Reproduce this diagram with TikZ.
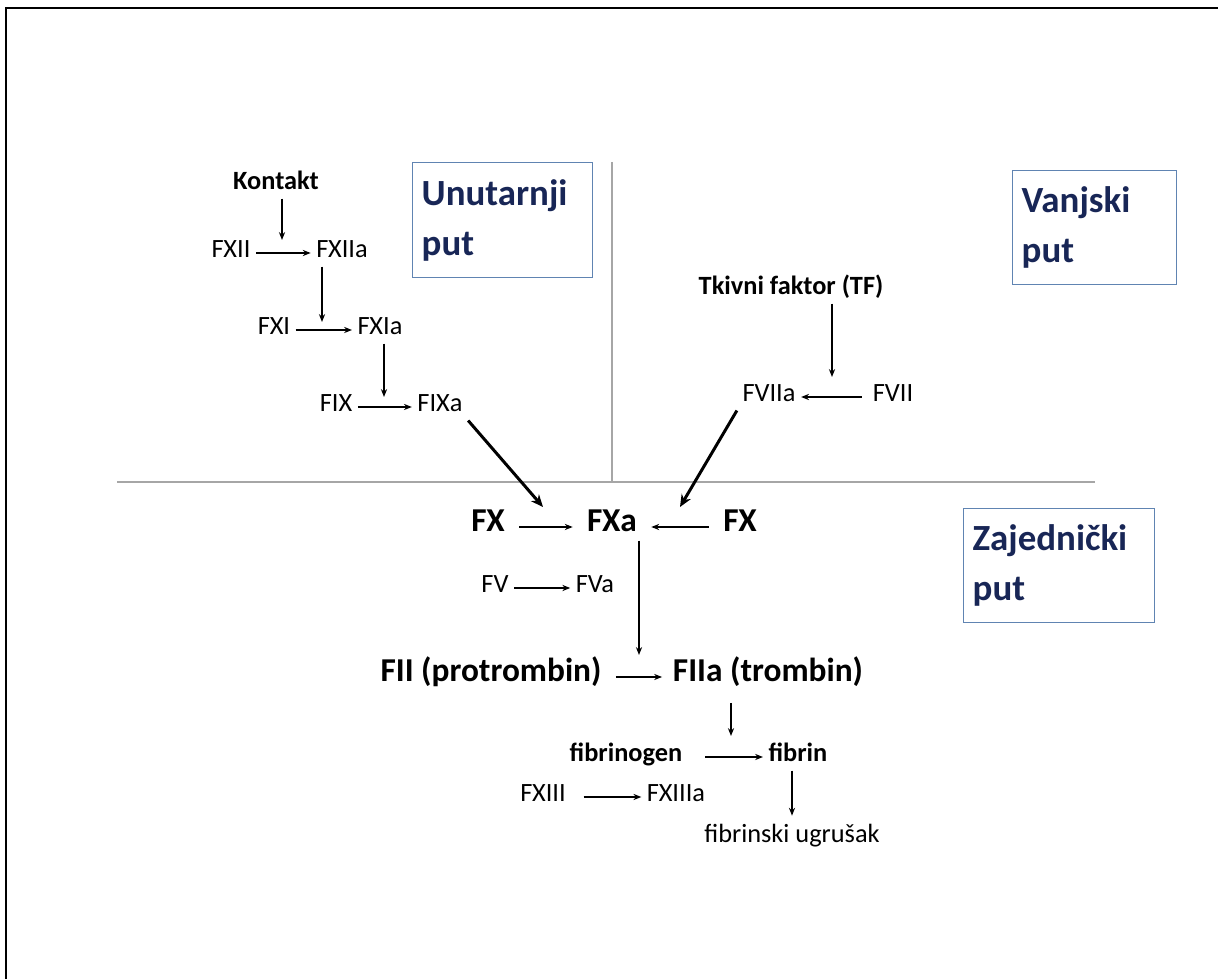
\documentclass[tikz,border=0pt]{standalone}
\usepackage{fontspec}
\setmainfont{Carlito}
\usetikzlibrary{arrows.meta,calc}
\definecolor{pathnavy}{RGB}{24,38,86}
\definecolor{pathframe}{RGB}{96,132,178}

\begin{document}
\begin{tikzpicture}[x=0.02cm, y=-0.02cm,
    factor/.style={font=\fontsize{15}{18}\selectfont, inner sep=3pt, text height=0.7em, text depth=0.2em},
    factorb/.style={factor, font=\bfseries\fontsize{15}{18}\selectfont},
    major/.style={font=\bfseries\fontsize{19}{23}\selectfont, inner xsep=8pt, inner ysep=3pt, text height=0.7em, text depth=0.2em},
    conv/.style={-{Stealth[length=4.5pt, width=3.5pt]}, line width=0.8pt},
    feed/.style={-{Stealth[length=7pt, width=6pt]}, line width=1.7pt},
    divider/.style={draw=black!35, line width=0.8pt},
    pathbox/.style={draw=pathframe, line width=0.8pt, text=pathnavy, anchor=north west, align=left, inner xsep=0.18cm, font=\bfseries\fontsize{21}{28.4}\selectfont}]
    \useasboundingbox (0,0) rectangle (1218,979);
    \draw[line width=1.2pt] (6,979) -- (6,8) -- (1218,8);

    % quadrants
    \draw[divider] (117,482) -- (1095,482);
    \draw[divider] (612,162) -- (612,482);

    \node[pathbox, text width=3.24cm, minimum height=2.3cm] (intrinsic) at (412,162) {Unutarnji\\put};
    \node[pathbox, text width=2.92cm, minimum height=2.28cm] (extrinsic) at (1012,170) {Vanjski\\put};
    \node[pathbox, text width=3.46cm, minimum height=2.28cm] (common) at (963,508) {Zajednički\\put};

    % intrinsic pathway
    \node[factorb] (kontakt) at (276,185) {Kontakt};
    \node[factor] (fxii) at (231,253) {FXII};
    \node[factor] (fxiia) at (342,253) {FXIIa};
    \node[factor] (fxi) at (274,330) {FXI};
    \node[factor] (fxia) at (380,330) {FXIa};
    \node[factor] (fix) at (336,407) {FIX};
    \node[factor] (fixa) at (440,407) {FIXa};

    \coordinate (xii-in) at (282,240);
    \coordinate (xi-in) at (322,322);
    \coordinate (ix-in) at (384,397);

    \draw[conv] (kontakt.south -| xii-in) -- (xii-in);
    \draw[conv] (fxii) -- (fxiia);
    \draw[conv] (fxiia.south -| xi-in) -- (xi-in);
    \draw[conv] (fxi) -- (fxia);
    \draw[conv] (fxia.south -| ix-in) -- (ix-in);
    \draw[conv] (fix) -- (fixa);

    % extrinsic pathway
    \node[factorb] (tf) at (791,290) {Tkivni faktor (TF)};
    \node[factor] (fviia) at (769,397) {FVIIa};
    \node[factor] (fvii) at (893,397) {FVII};

    \coordinate (vii-in) at (832,377);
    \draw[conv] (tf.south -| vii-in) -- (vii-in);
    \draw[conv, shorten <=3pt] (fvii) -- (fviia);

    % common pathway
    \node[major] (fx-l) at (488,527) {FX};
    \node[major] (fxa) at (612,527) {FXa};
    \node[major] (fx-r) at (740,527) {FX};
    \node[factor] (fv) at (495,588) {FV};
    \node[factor] (fva) at (595,588) {FVa};
    \node[major] (fii) at (491,677) {FII (protrombin)};
    \node[major] (fiia) at (768,677) {FIIa (trombin)};
    \node[factorb] (fibrinogen) at (626,757) {fibrinogen};
    \node[factorb] (fibrin) at (798,757) {fibrin};
    \node[factor] (fxiii) at (543,797) {FXIII};
    \node[factor] (fxiiia) at (676,797) {FXIIIa};
    \node[factor] (ugr) at (792,838) {fibrinski ugrušak};

    \coordinate (fxa-left) at (543,507);
    \coordinate (fxa-right) at (680,507);
    \coordinate (ii-in) at (639,655);
    \coordinate (fib-in) at (731,736);

    \draw[feed] (fixa.south east) -- (fxa-left);
    \draw[feed] (fviia.south west) -- (fxa-right);
    \draw[conv] (fx-l) -- (fxa);
    \draw[conv] (fx-r) -- (fxa);
    \draw[conv] (fv) -- (fva);
    \draw[conv] (fxa.south -| ii-in) -- (ii-in);
    \draw[conv, shorten >=-2pt] (fii) -- (fiia);
    \draw[conv, shorten <=7pt] (fiia.south -| fib-in) -- (fib-in);
    \draw[conv, shorten <=10pt] (fibrinogen) -- (fibrin);
    \draw[conv, shorten <=7pt] (fxiii) -- (fxiiia);
    \draw[conv, shorten >=5pt] (fibrin.south -| ugr.north) -- (ugr.north);
\end{tikzpicture}
\end{document}
